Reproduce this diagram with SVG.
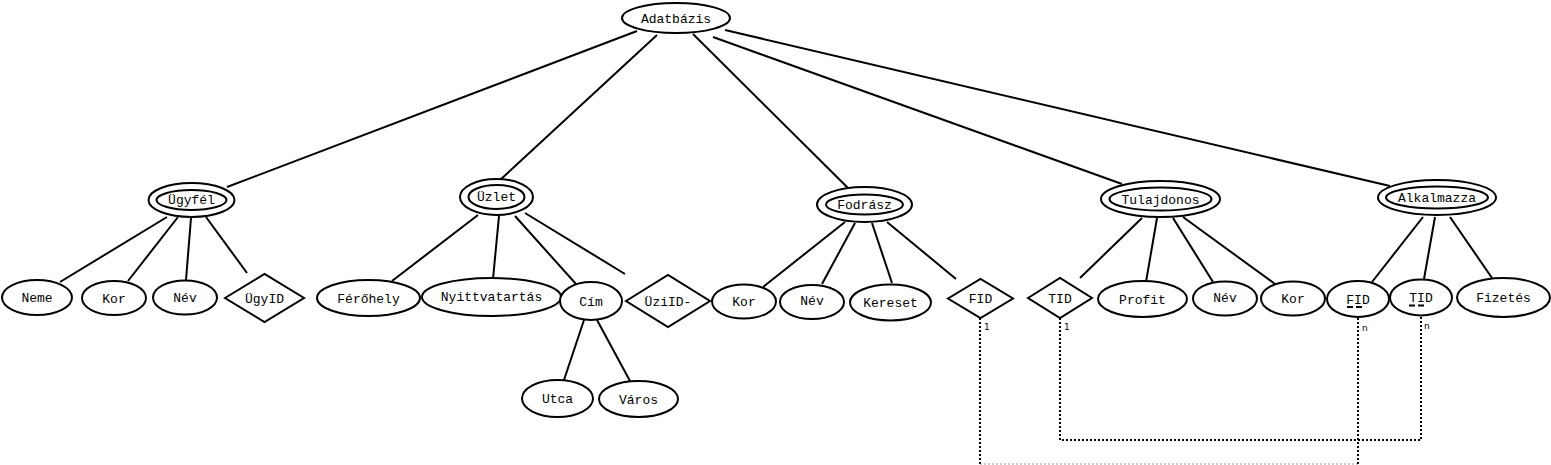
<svg xmlns="http://www.w3.org/2000/svg" width="1551" height="465" viewBox="0 0 1551 465">
<style>
.s{fill:#fff;stroke:#000;stroke-width:2}
.i{fill:none;stroke:#000;stroke-width:2}
.l{stroke:#000;stroke-width:2;fill:none}
.d{stroke:#000;stroke-width:2;fill:none;stroke-dasharray:2 2}
.g{stroke:#999;stroke-width:1;fill:none;stroke-dasharray:2 2}
text{font-family:"Liberation Mono","Courier New",monospace;font-size:13px;text-anchor:middle;fill:#000}
.c{font-size:9px;text-anchor:start;font-family:"DejaVu Sans",sans-serif}
</style>
<g id="connectors">
<line class="l" x1="637" y1="31" x2="227" y2="187"/>
<line class="l" x1="657" y1="35" x2="500" y2="180"/>
<line class="l" x1="693" y1="34" x2="848" y2="188"/>
<line class="l" x1="713" y1="37" x2="1122" y2="184"/>
<line class="l" x1="725" y1="30" x2="1390" y2="186"/>
<line class="l" x1="167" y1="217" x2="60" y2="282"/>
<line class="l" x1="178" y1="217" x2="128" y2="281"/>
<line class="l" x1="191" y1="218" x2="186" y2="280"/>
<line class="l" x1="206" y1="217" x2="247" y2="273"/>
<line class="l" x1="478" y1="215" x2="392" y2="281"/>
<line class="l" x1="499" y1="216" x2="493" y2="279"/>
<line class="l" x1="515" y1="216" x2="576" y2="284"/>
<line class="l" x1="525" y1="213" x2="625" y2="274"/>
<line class="l" x1="584" y1="320" x2="564" y2="380"/>
<line class="l" x1="597" y1="320" x2="630" y2="381"/>
<line class="l" x1="845" y1="222" x2="763" y2="287"/>
<line class="l" x1="855" y1="223" x2="822" y2="284"/>
<line class="l" x1="872" y1="223" x2="892" y2="283"/>
<line class="l" x1="887" y1="222" x2="956" y2="279"/>
<line class="l" x1="1142" y1="218" x2="1080" y2="278"/>
<line class="l" x1="1157" y1="218" x2="1146" y2="282"/>
<line class="l" x1="1173" y1="218" x2="1213" y2="282"/>
<line class="l" x1="1183" y1="217" x2="1275" y2="284"/>
<line class="l" x1="1423" y1="217" x2="1372" y2="282"/>
<line class="l" x1="1435" y1="217" x2="1424" y2="279"/>
<line class="l" x1="1450" y1="217" x2="1492" y2="278"/>
<polyline class="d" points="980,318 980,464"/>
<polyline class="g" points="980,464 1358,464"/>
<polyline class="d" points="1358,464 1358,317"/>
<polyline class="d" points="1060,318 1060,440 1421,440 1421,316"/>
<text class="c" x="984" y="330">1</text>
<text class="c" x="1064" y="330">1</text>
<text class="c" x="1362" y="331">n</text>
<text class="c" x="1424" y="329">n</text>
</g>
<g id="adatbazis"><ellipse class="s" cx="676" cy="18" rx="54" ry="15"/><text x="676" y="22.5">Adatbázis</text></g>
<g id="ugyfel"><ellipse class="s" cx="191.5" cy="200" rx="43" ry="17"/><ellipse class="i" cx="191.5" cy="200" rx="35" ry="10"/><text x="191.5" y="204">Ügyfél</text></g>
<g id="ugyfel-neme"><ellipse class="s" cx="37" cy="297.5" rx="35" ry="17.5"/><text x="37" y="302">Neme</text></g>
<g id="ugyfel-kor"><ellipse class="s" cx="114" cy="298" rx="32" ry="17"/><text x="114" y="302.5">Kor</text></g>
<g id="ugyfel-nev"><ellipse class="s" cx="185" cy="297.5" rx="32" ry="17"/><text x="185" y="302">Név</text></g>
<g id="ugyid"><polygon class="s" points="225,298 264.5,274 304,298 264.5,322"/><text x="264.5" y="302.5">ÜgyID</text></g>
<g id="uzlet"><ellipse class="s" cx="496.5" cy="197" rx="36.5" ry="18"/><ellipse class="i" cx="496.5" cy="197" rx="28" ry="12"/><text x="496.5" y="201">Üzlet</text></g>
<g id="ferohely"><ellipse class="s" cx="368.5" cy="298" rx="51.5" ry="18"/><text x="368.5" y="302.5">Férőhely</text></g>
<g id="nyitvatartas"><ellipse class="s" cx="491.5" cy="297" rx="69.5" ry="19"/><text x="491.5" y="301">Nyittvatartás</text></g>
<g id="cim"><ellipse class="s" cx="591" cy="301" rx="31" ry="19"/><text x="591" y="305.5">Cím</text></g>
<g id="utca"><ellipse class="s" cx="557.5" cy="398.5" rx="35.5" ry="18.5"/><text x="557.5" y="403">Utca</text></g>
<g id="varos"><ellipse class="s" cx="638.5" cy="399" rx="39.5" ry="18"/><text x="638.5" y="403.5">Város</text></g>
<g id="uziid"><polygon class="s" points="626,301 668,275 710,301 668,327"/><text x="668" y="305.5">ÜziID-</text></g>
<g id="fodrasz"><ellipse class="s" cx="864.5" cy="204.5" rx="47.5" ry="17.5"/><ellipse class="i" cx="864.5" cy="204.5" rx="38.5" ry="10"/><text x="864.5" y="209">Fodrász</text></g>
<g id="fodrasz-kor"><ellipse class="s" cx="744" cy="301.5" rx="32" ry="17"/><text x="744" y="306">Kor</text></g>
<g id="fodrasz-nev"><ellipse class="s" cx="812" cy="302" rx="32" ry="17"/><text x="812" y="305">Név</text></g>
<g id="kereset"><ellipse class="s" cx="890.5" cy="302.5" rx="40.5" ry="18"/><text x="890.5" y="307">Kereset</text></g>
<g id="fid-diamond"><polygon class="s" points="948,298.5 980.5,279 1013,298.5 980.5,318"/><text x="980.5" y="303">FID</text></g>
<g id="tulajdonos"><ellipse class="s" cx="1160.5" cy="199" rx="59.5" ry="18"/><ellipse class="i" cx="1160.5" cy="199" rx="51" ry="11.5"/><text x="1160.5" y="203.5">Tulajdonos</text></g>
<g id="tid-diamond"><polygon class="s" points="1028,298 1060,278 1092,298 1060,318"/><text x="1060" y="302.5">TID</text></g>
<g id="profit"><ellipse class="s" cx="1142.5" cy="299" rx="44.5" ry="18"/><text x="1142.5" y="303.5">Profit</text></g>
<g id="tulajdonos-nev"><ellipse class="s" cx="1225" cy="298.5" rx="32" ry="17"/><text x="1225" y="302">Név</text></g>
<g id="tulajdonos-kor"><ellipse class="s" cx="1293" cy="298.5" rx="32" ry="17"/><text x="1293" y="303">Kor</text></g>
<g id="alkalmazza"><ellipse class="s" cx="1437" cy="197.5" rx="59" ry="17.5"/><ellipse class="i" cx="1437" cy="197.5" rx="51" ry="11"/><text x="1437" y="202">Alkalmazza</text></g>
<g id="alk-fid"><ellipse class="s" cx="1358" cy="299" rx="31" ry="18"/><text x="1358" y="303.5">FID</text><line x1="1347" y1="307" x2="1365" y2="307" stroke="#000" stroke-width="2" stroke-dasharray="6 3"/></g>
<g id="alk-tid"><ellipse class="s" cx="1421" cy="297.5" rx="31" ry="18"/><text x="1421" y="302">TID</text><line x1="1409" y1="305.5" x2="1427" y2="305.5" stroke="#000" stroke-width="2" stroke-dasharray="6 3"/></g>
<g id="fizetes"><ellipse class="s" cx="1503.5" cy="297.5" rx="46.5" ry="19.5"/><text x="1503.5" y="302">Fizetés</text></g>
</svg>
